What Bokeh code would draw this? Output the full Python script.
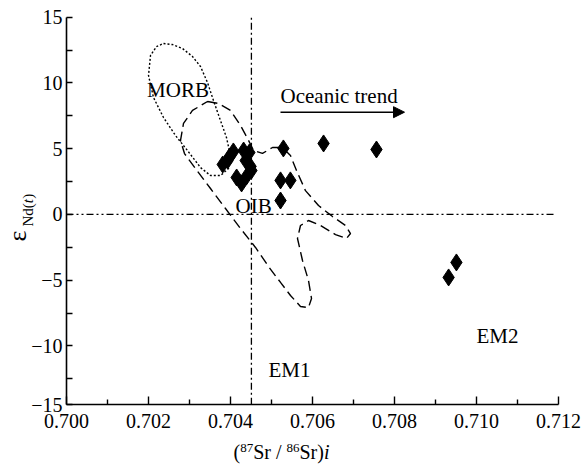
from bokeh.plotting import figure
from bokeh.models import (Range1d, FixedTicker, Label, Arrow, NormalHead)
from bokeh.embed import file_html
from bokeh.resources import INLINE
import math

# ---------------- data ----------------
sr_ratio = [0.70381, 0.70398, 0.70407, 0.70432, 0.70446, 0.70437, 0.70449,
            0.70415, 0.70427, 0.70439, 0.70451, 0.70393,
            0.70529, 0.70522, 0.70546, 0.70522, 0.70627, 0.70756,
            0.70951, 0.70932]
eps_nd = [3.80, 4.41, 4.79, 4.86, 4.71, 4.10, 3.65,
          2.81, 2.36, 2.89, 3.34, 4.10,
          5.02, 2.59, 2.59, 1.06, 5.40, 4.94,
          -3.65, -4.79]

morb_x = [0.702366, 0.702585, 0.702829, 0.703073, 0.703268, 0.703439, 0.703585,
          0.703756, 0.703902, 0.704000, 0.703951, 0.703756, 0.703512, 0.703268,
          0.702951, 0.702659, 0.702366, 0.702122, 0.702000, 0.702049, 0.702195,
          0.702366]
morb_y = [13.00, 12.92, 12.62, 12.01, 11.25, 10.03, 8.66,
          7.14, 5.85, 4.48, 3.49, 2.96, 2.96, 3.57,
          4.86, 6.00, 7.37, 8.89, 10.57, 12.09, 12.77,
          13.00]

oib_x = [0.703439, 0.703707, 0.704000, 0.704244, 0.704439, 0.704561, 0.704780,
         0.705024, 0.705268, 0.705463, 0.705610, 0.705829, 0.706146, 0.706488,
         0.706805, 0.706927, 0.706829, 0.706561, 0.706195, 0.705902, 0.705707,
         0.705634, 0.705756, 0.705902, 0.705976, 0.705902, 0.705707, 0.705463,
         0.705220, 0.704927, 0.704610, 0.704244, 0.703878, 0.703512, 0.703146,
         0.702878, 0.702780, 0.702854, 0.703073, 0.703439]
oib_y = [8.59, 8.44, 7.91, 6.77, 5.63, 4.87, 4.64,
         5.09, 5.09, 4.48, 3.34, 1.81, 0.68, -0.16,
         -0.84, -1.45, -1.83, -1.53, -0.84, -0.46, -0.84,
         -1.83, -3.50, -5.02, -6.39, -7.08, -7.00, -6.16,
         -5.17, -3.96, -2.51, -1.07, 0.45, 1.97, 3.49,
         4.63, 5.62, 6.92, 7.91, 8.59]

x_ticks = [0.700, 0.702, 0.704, 0.706, 0.708, 0.710, 0.712]
x_tick_labels = ["0.700", "0.702", "0.704", "0.706", "0.708", "0.710", "0.712"]
x_minor = [0.701, 0.703, 0.705, 0.707, 0.709, 0.711]
y_ticks = [-14.47, -10, -5, 0, 5, 10, 15]
y_tick_labels = ["\u221215", "\u221210", "\u22125", "0", "5", "10", "15"]
y_minor = [-12.5, -7.5, -2.5, 2.5, 7.5, 12.5]

X_MIN, X_MAX = 0.700, 0.712
Y_MIN, Y_MAX = -14.47, 15
sr_boundary = 0.70451
nd_boundary = 0.0

FONT = "Liberation Serif"
W, H = 582, 464
PX_X = 492.0 / (X_MAX - X_MIN)   # pixels per unit x
PX_Y = 13.15                      # pixels per unit y
LEFT, TOP = 66.0, 16.7            # page position of (0.700, 15)

# page pixel -> data helpers (for annotation placement)
def dx(px):
    return X_MIN + (px - LEFT) / PX_X

def dy(py):
    return Y_MAX - (py - TOP) / PX_Y

p = figure(width=W, height=H,
           x_range=Range1d(dx(0), dx(W)), y_range=Range1d(dy(H), dy(0)),
           output_backend="svg", toolbar_location=None, min_border=0)
p.outline_line_color = None
p.grid.visible = False
p.background_fill_color = "white"
p.border_fill_color = "white"

# axes (placed at fixed data locations so the frame spans the whole canvas)
p.xaxis.fixed_location = Y_MIN
p.yaxis.fixed_location = X_MIN
p.xaxis.bounds = (X_MIN, X_MAX)
p.yaxis.bounds = (Y_MIN, Y_MAX)
p.xaxis.ticker = FixedTicker(ticks=x_ticks, minor_ticks=x_minor)
p.xaxis.major_label_overrides = {t: l for t, l in zip(x_ticks, x_tick_labels)}
p.yaxis.ticker = FixedTicker(ticks=y_ticks, minor_ticks=y_minor)
p.yaxis.major_label_overrides = {t: l for t, l in zip(y_ticks, y_tick_labels)}
for ax in (p.xaxis, p.yaxis):
    ax.axis_line_color = "black"
    ax.axis_line_width = 1.6
    ax.major_tick_line_color = "black"
    ax.minor_tick_line_color = "black"
    ax.major_tick_line_width = 1.4
    ax.minor_tick_line_width = 1.4
    ax.major_tick_out = 0
    ax.minor_tick_out = 0
    ax.major_label_text_font = FONT
    ax.major_label_text_font_size = "20px"
    ax.major_label_text_color = "black"
p.xaxis.major_tick_in = 8
p.xaxis.minor_tick_in = 5
p.yaxis.major_tick_in = 6
p.yaxis.minor_tick_in = 6
p.xaxis.major_label_standoff = 9
p.yaxis.major_label_standoff = 4

# reference lines
p.line([sr_boundary, sr_boundary], [Y_MIN, Y_MAX], line_color="black",
       line_width=1.3, line_dash="7 3 2 3")
p.line([X_MIN, 0.71195], [nd_boundary, nd_boundary], line_color="black",
       line_width=1.3, line_dash="7 3 2 3 2 3")

# fields
p.line(morb_x, morb_y, line_color="black", line_width=1.4, line_dash="2 2")
p.line(oib_x, oib_y, line_color="black", line_width=1.4, line_dash="10 5")

# data
p.scatter(sr_ratio, eps_nd, marker="diamond", size=17, fill_color="black",
          line_color="black")

# arrow
p.add_layout(Arrow(end=NormalHead(size=11, fill_color="black", line_color="black"),
                   x_start=dx(280), y_start=dy(111.7), x_end=dx(404), y_end=dy(111.7),
                   line_color="black", line_width=1.6))

def lab(text, x, y, size="21px", align="left", baseline="middle",
        style="normal", angle=0.0):
    p.add_layout(Label(x=x, y=y, text=text, text_font=FONT, text_font_size=size,
                       text_align=align, text_baseline=baseline,
                       text_font_style=style, text_color="black", angle=angle))

lab("MORB", dx(177.5), dy(89.5), align="center")
lab("Oceanic trend", dx(280), dy(95))
lab("OIB", dx(235), dy(205))
lab("EM1", dx(268), dy(369.5))
lab("EM2", dx(476), dy(335.5))

# x axis title: (87Sr / 86Sr)i
xs = 233.0
base = 451.5
sup = 447.5
lab("(", dx(xs), dy(base), size="20px"); xs += 6.7
lab("87", dx(xs), dy(sup), size="13px"); xs += 13.0
lab("Sr / ", dx(xs), dy(base), size="20px"); xs += 33.3
lab("86", dx(xs), dy(sup), size="13px"); xs += 13.0
lab("Sr)", dx(xs), dy(base), size="20px"); xs += 24.4
lab("i", dx(xs), dy(base), size="20px", style="italic")

# y axis title: epsilon Nd(t), rotated
ang = math.pi / 2
lab("\u03b5", dx(16.5), dy(241), size="26px", angle=ang)
ys = 226.0
lab("Nd(", dx(27), dy(ys), size="15px", angle=ang); ys -= 23.3
lab("t", dx(27), dy(ys), size="15px", style="italic", angle=ang); ys -= 4.4
lab(")", dx(27), dy(ys), size="15px", angle=ang)

open("out.html", "w").write(file_html(p, INLINE))
